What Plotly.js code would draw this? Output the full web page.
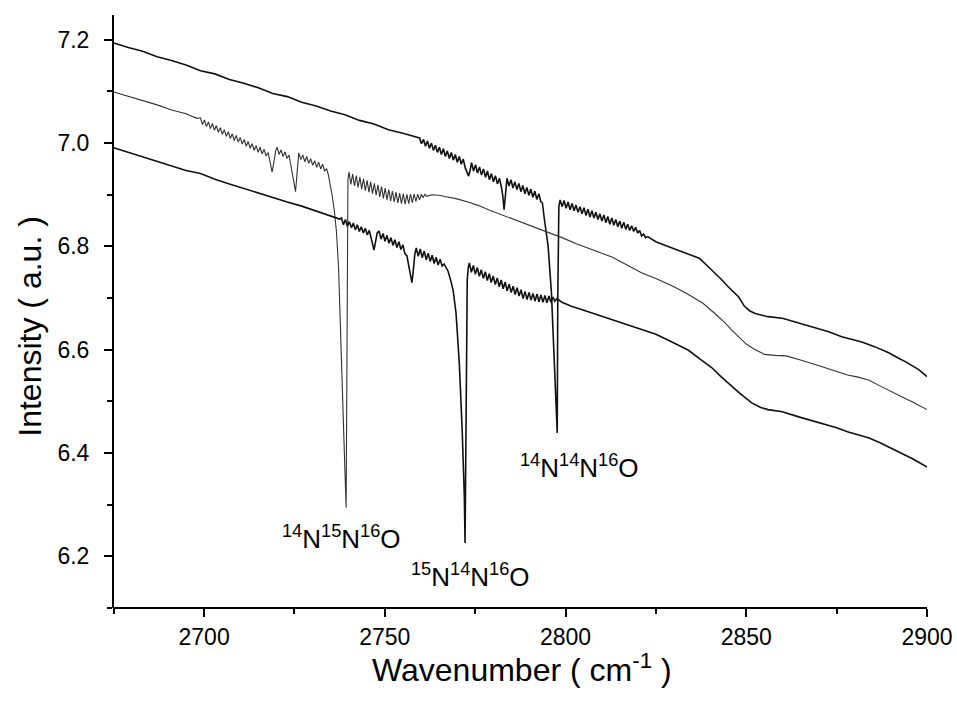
<!DOCTYPE html>
<html><head><meta charset="utf-8">
<script src="https://cdn.plot.ly/plotly-3.0.1.min.js"></script>
<style>html,body{margin:0;padding:0;background:#fff}#chart{width:957px;height:704px}</style>
</head><body><div id="chart"></div>
<script>
// Top spectrum (14N14N16O band)
const topWn = [2675,2679,2683,2687,2691,2695,2699,2703,2707,2711,2715,2719,2723,2727,2731,2735,2739,2743,2747,2751,2755,
2759.6,2760.15,2760.7,2761.25,2761.8,2762.35,2762.9,2763.45,2764,2764.55,
2765.1,2765.65,2766.2,2766.75,2767.3,2767.85,2768.4,2768.95,2769.5,2770.05,
2770.6,2771.15,2771.7,2772.25,2772.8,2773.2,2773.6,2774,2774.55,2775.1,
2775.65,2776.2,2776.75,2777.3,2777.85,2778.4,2778.95,2779.5,2780.05,2780.6,
2781.15,2781.7,2782.25,2782.6,2783,2783.4,2783.8,
2784.35,2784.9,2785.45,2786,2786.55,2787.1,2787.65,2788.2,2788.75,2789.3,
2789.85,2790.4,2790.95,2791.5,2792.05,2792.6,2793.15,2793.6,
2794.1,2794.6,2795.2,2796.1,2796.9,2797.4,2797.7,2797.85,2798.0,2798.15,2798.5,
2799.05,2799.6,2800.15,2800.7,2801.25,2801.8,2802.35,2802.9,2803.45,2804,
2804.55,2805.1,2805.65,2806.2,2806.75,2807.3,2807.85,2808.4,2808.95,2809.5,
2810.05,2810.6,2811.15,2811.7,2812.25,2812.8,2813.35,2813.9,2814.45,2815,
2815.55,2816.1,2816.65,2817.2,2817.75,2818.3,2818.85,2819.4,2819.95,2820.5,
2821.05,2821.6,2822.15,2822.7,
2825,2828,2832,2835,2837,2839,2841.3,2843,2845,2847.9,2849.5,2851,2852.5,2856,2860,2863.4,2866,2869,2872.8,2876.4,2879,2882,2885.5,2889.4,2892,2894,2897.8,2900];
const topVal = [7.194,7.185,7.178,7.167,7.160,7.151,7.140,7.134,7.123,7.116,7.107,7.096,7.090,7.079,7.072,7.062,7.055,7.044,7.037,7.026,7.019,
7.010,6.999,7.007,6.994,7.004,6.990,7.000,6.986,6.996,6.982,
6.992,6.978,6.989,6.974,6.985,6.970,6.982,6.967,6.978,6.963,
6.974,6.959,6.969,6.952,6.942,6.936,6.948,6.962,6.946,6.958,
6.942,6.954,6.938,6.950,6.934,6.946,6.929,6.941,6.925,6.937,
6.921,6.932,6.915,6.900,6.871,6.905,6.932,
6.917,6.929,6.913,6.925,6.910,6.922,6.906,6.918,6.902,6.914,
6.899,6.911,6.895,6.907,6.891,6.902,6.887,6.884,
6.855,6.828,6.799,6.710,6.580,6.500,6.439,6.697,6.838,6.877,6.890,
6.877,6.889,6.874,6.886,6.871,6.883,6.869,6.880,6.866,6.877,
6.863,6.875,6.860,6.872,6.857,6.869,6.855,6.866,6.852,6.863,
6.849,6.861,6.846,6.858,6.843,6.855,6.841,6.852,6.838,6.849,
6.835,6.847,6.833,6.843,6.831,6.840,6.829,6.837,6.826,6.831,
6.820,6.824,6.817,6.819,
6.809,6.801,6.790,6.782,6.777,6.764,6.749,6.737,6.722,6.702,6.684,6.675,6.670,6.664,6.661,6.654,6.648,6.642,6.635,6.625,6.620,6.615,6.606,6.594,6.584,6.577,6.561,6.548];

// Middle spectrum (14N15N16O band)
const midWn = [2675,2679,2683,2687,2691,2695,2698,
2699,2699.55,2700.1,2700.65,2701.2,2701.75,2702.3,2702.85,2703.4,2703.95,
2704.5,2705.05,2705.6,2706.15,2706.7,2707.25,2707.8,2708.35,2708.9,2709.45,
2710,2710.55,2711.1,2711.65,2712.2,2712.75,2713.3,2713.85,2714.4,2714.95,
2715.5,2716.05,2716.6,2717.15,2717.7,2718.3,2718.8,2719.3,2719.8,2720.2,
2720.75,2721.3,2721.85,2722.4,2722.95,2723.5,2724.05,2724.6,2725,2725.3,
2725.7,2726.2,2726.75,2727.3,2727.85,2728.4,2728.95,2729.5,2730.05,2730.6,
2731.15,2731.7,2732.25,2732.8,2733.35,2733.9,2734.4,2734.8,
2735.4,2736.0,2736.6,2737.2,2737.8,2738.4,2738.9,2739.3,2739.45,2739.6,2739.8,2740.1,
2740.6,2741.1,2741.6,2742.1,2742.6,2743.1,2743.6,2744.1,2744.6,2745.1,
2745.6,2746.1,2746.6,2747.1,2747.6,2748.1,2748.6,2749.1,2749.6,2750.1,
2750.6,2751.1,2751.6,2752.1,2752.6,2753.1,2753.6,2754.1,2754.6,2755.1,
2755.6,2756.1,2756.6,2757.1,2757.6,2758.1,2758.6,2759.1,2759.6,2760.1,
2760.6,2761.1,2761.6,
2763,2765,2767,2770,2773,2776,2779,2782,2785,2788,2791,2795,2799,2803,2807,2810,2813,2817,2821,2825,2830,2834,2838,2841,2844,2846,2848,2850,2852,2855,2858,2861,2865,2868,2871,2875,2878,2881,2884,2887,2890,2893,2896,2900];
const midVal = [7.099,7.091,7.082,7.074,7.064,7.057,7.048,
7.049,7.036,7.045,7.032,7.041,7.028,7.038,7.025,7.034,7.021,
7.030,7.017,7.026,7.013,7.022,7.009,7.018,7.005,7.015,7.002,
7.011,6.998,7.007,6.994,7.003,6.990,6.999,6.986,6.995,6.982,
6.992,6.979,6.988,6.975,6.982,6.962,6.944,6.962,6.985,6.992,
6.978,6.987,6.974,6.983,6.970,6.977,6.955,6.938,6.918,6.906,
6.940,6.981,6.968,6.977,6.964,6.974,6.961,6.970,6.957,6.966,
6.953,6.963,6.950,6.959,6.946,6.950,6.938,6.925,
6.900,6.871,6.830,6.760,6.640,6.500,6.380,6.294,6.560,6.800,6.930,6.944,
6.920,6.940,6.917,6.937,6.914,6.934,6.911,6.931,6.908,6.928,
6.905,6.925,6.902,6.922,6.899,6.919,6.896,6.916,6.893,6.913,
6.890,6.910,6.888,6.907,6.886,6.905,6.884,6.903,6.883,6.902,
6.882,6.901,6.883,6.901,6.885,6.901,6.887,6.901,6.890,6.901,
6.894,6.901,6.897,
6.900,6.899,6.896,6.892,6.886,6.879,6.870,6.862,6.854,6.847,6.838,6.827,6.817,6.805,6.795,6.788,6.779,6.764,6.749,6.738,6.722,6.707,6.690,6.672,6.653,6.638,6.625,6.611,6.602,6.591,6.589,6.588,6.580,6.574,6.567,6.558,6.551,6.547,6.541,6.530,6.519,6.509,6.499,6.484];

// Bottom spectrum (15N14N16O band)
const botWn = [2675,2679,2683,2687,2691,2695,2699,2703,2707,2711,2715,2719,2723,2727,2731,2735,2737.5,
2738,2738.55,2739.1,2739.65,2740.2,2740.75,2741.3,2741.85,2742.4,2742.95,
2743.5,2744.05,2744.6,2745.15,2745.7,2746.25,2746.7,2747,2747.4,2747.9,
2748.4,2748.95,2749.5,2750.05,2750.6,2751.15,2751.7,2752.25,2752.8,2753.35,
2753.9,2754.45,2755,2755.55,2756.1,2756.6,2757.1,2757.5,2757.9,2758.3,
2758.7,2759.25,2759.8,2760.35,2760.9,2761.45,2762,2762.55,2763.1,2763.65,
2764.2,2764.75,2765.3,2765.85,2766.4,2766.9,2767.5,
2768.2,2768.9,2769.7,2770.6,2771.4,2772.0,2772.2,2772.45,2772.6,2772.8,2773.1,2773.4,
2773.95,2774.5,2775.05,2775.6,2776.15,2776.7,2777.25,2777.8,2778.35,2778.9,
2779.45,2780,2780.55,2781.1,2781.65,2782.2,2782.75,2783.3,2783.85,2784.4,
2784.95,2785.5,2786.05,2786.6,2787.15,2787.7,2788.25,2788.8,2789.35,2789.9,
2790.45,2791,2791.55,2792.1,2792.65,2793.2,2793.75,2794.3,2794.85,2795.4,
2795.95,2796.5,2797.05,2797.6,
2799,2801.6,2804,2807,2810.7,2814,2817,2821,2825,2830,2834,2837.6,2840.5,2843,2846,2848,2851.5,2854,2856,2860,2864.5,2867,2871,2875,2878,2881,2884,2887,2890,2893,2896,2900];
const botVal = [6.991,6.982,6.973,6.965,6.955,6.947,6.941,6.930,6.921,6.912,6.904,6.895,6.886,6.878,6.868,6.859,6.853,
6.855,6.842,6.852,6.839,6.848,6.836,6.845,6.832,6.842,6.829,
6.838,6.826,6.835,6.822,6.831,6.815,6.800,6.793,6.808,6.826,
6.830,6.814,6.825,6.810,6.821,6.806,6.817,6.802,6.813,6.798,
6.809,6.794,6.803,6.786,6.782,6.765,6.745,6.730,6.755,6.785,
6.797,6.781,6.795,6.778,6.791,6.774,6.787,6.771,6.783,6.767,
6.779,6.764,6.775,6.762,6.766,6.758,6.752,
6.735,6.715,6.671,6.575,6.445,6.315,6.226,6.445,6.640,6.735,6.760,6.768,
6.750,6.763,6.746,6.759,6.742,6.755,6.738,6.751,6.734,6.747,
6.730,6.743,6.726,6.739,6.722,6.735,6.718,6.731,6.714,6.727,
6.711,6.723,6.707,6.720,6.704,6.716,6.699,6.713,6.697,6.711,
6.696,6.709,6.694,6.708,6.693,6.706,6.692,6.705,6.691,6.704,
6.692,6.702,6.694,6.699,
6.692,6.684,6.679,6.672,6.664,6.656,6.649,6.639,6.630,6.613,6.599,6.580,6.565,6.548,6.529,6.517,6.497,6.488,6.484,6.480,6.470,6.465,6.458,6.449,6.441,6.435,6.429,6.420,6.410,6.400,6.389,6.373];

// Band labels
const labelText = ['<sup>14</sup>N<sup>15</sup>N<sup>16</sup>O','<sup>15</sup>N<sup>14</sup>N<sup>16</sup>O','<sup>14</sup>N<sup>14</sup>N<sup>16</sup>O'];
const labelWn = [2737.9, 2773.6, 2803.8];
const labelVal = [6.236, 6.162, 6.373];

const xTitle = 'Wavenumber ( cm<sup>-1</sup> )';
const yTitle = 'Intensity ( a.u. )';

const FONT = 'Liberation Sans, Arial, Helvetica, sans-serif';

const traces = [
  {x: topWn, y: topVal, mode: 'lines', line: {color: '#111', width: 1.6}},
  {x: midWn, y: midVal, mode: 'lines', line: {color: '#333', width: 1.1}},
  {x: botWn, y: botVal, mode: 'lines', line: {color: '#111', width: 1.6}}
];

const annotations = labelText.map((t, i) => ({
  x: labelWn[i], y: labelVal[i], xref: 'x', yref: 'y', text: t, showarrow: false,
  xanchor: 'center', yanchor: 'middle', font: {family: FONT, size: 26, color: '#000'}
}));
annotations.push({
  x: 0.502, y: -0.101, xref: 'paper', yref: 'paper', text: xTitle, showarrow: false,
  xanchor: 'center', yanchor: 'middle', font: {family: FONT, size: 32, color: '#000'}
});
annotations.push({
  x: -0.102, y: 0.476, xref: 'paper', yref: 'paper', text: yTitle, showarrow: false, textangle: -90,
  xanchor: 'center', yanchor: 'middle', font: {family: FONT, size: 32, color: '#000'}
});

// Axis lines drawn exactly on the plot-area edges
const shapes = [
  {type: 'line', xref: 'paper', yref: 'paper', x0: 0, x1: 0, y0: 0, y1: 1, line: {color: '#000', width: 2}},
  {type: 'line', xref: 'paper', yref: 'paper', x0: 0, x1: 1, y0: 0, y1: 0, line: {color: '#000', width: 2}}
];

const layout = {
  width: 957, height: 704,
  margin: {l: 113, r: 30, t: 15, b: 96},
  paper_bgcolor: '#fff', plot_bgcolor: '#fff',
  showlegend: false, hovermode: false,
  font: {family: FONT, color: '#000'},
  xaxis: {
    range: [2674.8, 2900], tickmode: 'linear', tick0: 2700, dtick: 50,
    ticks: 'outside', ticklen: 8, tickwidth: 2, tickcolor: '#000',
    showline: false, showgrid: false, zeroline: false,
    minor: {ticks: 'outside', ticklen: 5, tickwidth: 2, tickcolor: '#000', tick0: 2675, dtick: 25, showgrid: false},
    tickfont: {family: FONT, size: 23, color: '#000'}
  },
  yaxis: {
    range: [6.1, 7.248], tickmode: 'linear', tick0: 6.2, dtick: 0.2, tickformat: '.1f',
    ticks: 'outside', ticklen: 8, tickwidth: 2, tickcolor: '#000', ticklabelstandoff: 10,
    showline: false, showgrid: false, zeroline: false,
    minor: {ticks: 'outside', ticklen: 5, tickwidth: 2, tickcolor: '#000', tick0: 6.1, dtick: 0.1, showgrid: false},
    tickfont: {family: FONT, size: 23, color: '#000'}
  },
  shapes: shapes,
  annotations: annotations
};

Plotly.newPlot('chart', traces, layout, {staticPlot: true, displayModeBar: false});
</script>
</body></html>
